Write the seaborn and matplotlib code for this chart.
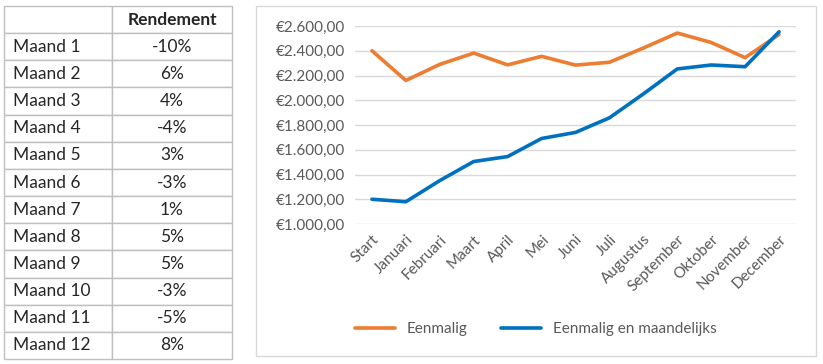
import matplotlib.pyplot as plt
import matplotlib.patches as mpatches
import pandas as pd
import seaborn as sns

# Data
maanden = ['Start', 'Januari', 'Februari', 'Maart', 'April', 'Mei', 'Juni', 'Juli',
           'Augustus', 'September', 'Oktober', 'November', 'December']
eenmalig = [2400, 2160, 2290, 2381, 2286, 2355, 2284, 2307, 2422, 2543, 2467, 2344, 2531]
eenmalig_maandelijks = [1200, 1180, 1351, 1505, 1545, 1691, 1740, 1858, 2051, 2253, 2285, 2271, 2553]
table_rows = ['Maand 1', 'Maand 2', 'Maand 3', 'Maand 4', 'Maand 5', 'Maand 6',
              'Maand 7', 'Maand 8', 'Maand 9', 'Maand 10', 'Maand 11', 'Maand 12']
rendement = ['-10%', '6%', '4%', '-4%', '3%', '-3%', '1%', '5%', '5%', '-3%', '-5%', '8%']

sns.set_style('white')
plt.rcParams['font.family'] = ['Lato', 'DejaVu Sans']

W, H = 823, 364
fig = plt.figure(figsize=(W / 100, H / 100), dpi=100)

# Table on the left
tax = fig.add_axes([4 / W, 1 - 359 / H, 228 / W, 353 / H])
tax.axis('off')
cells = [['', 'Rendement']] + [[r, v] for r, v in zip(table_rows, rendement)]
tbl = tax.table(cellText=cells, bbox=[0, 0, 1, 1], colWidths=[108, 120], cellLoc='center')
tbl.auto_set_font_size(False)
for (r, c), cell in tbl.get_celld().items():
    cell.set_edgecolor('#bfbfbf')
    cell.set_linewidth(1)
    cell.get_text().set_fontsize(12.5)
    cell.get_text().set_color('#262626')
    if c == 0:
        cell.get_text().set_ha('left')
        cell.PAD = 0.08
    if r == 0 and c == 1:
        cell.get_text().set_fontweight('bold')

# Chart border
fig.patches.append(mpatches.Rectangle((256 / W, 1 - 356 / H), 560 / W, 350 / H,
                                      transform=fig.transFigure, fill=False,
                                      edgecolor='#d9d9d9', linewidth=1))

# Line chart
df = pd.DataFrame({
    'maand': maanden * 2,
    'waarde': eenmalig + eenmalig_maandelijks,
    'serie': ['Eenmalig'] * len(maanden) + ['Eenmalig en maandelijks'] * len(maanden),
})
ax = fig.add_axes([355 / W, 1 - 224 / H, 441 / W, 198 / H])
sns.lineplot(data=df, x='maand', y='waarde', hue='serie', ax=ax,
             palette=['#ED7D31', '#0070C0'], linewidth=2.6, sort=False)
ax.set_xlim(-0.5, len(maanden) - 0.5)
ax.set_ylim(1000, 2600)
ax.set_yticks(range(1000, 2601, 200))
ax.set_yticklabels(['€' + f'{v:,.2f}'.replace(',', 'X').replace('.', ',').replace('X', '.')
                    for v in range(1000, 2601, 200)])
ax.grid(axis='y', color='#d9d9d9', linewidth=1)
ax.set_axisbelow(True)
for s in ax.spines.values():
    s.set_visible(False)
ax.set_xlabel('')
ax.set_ylabel('')
ax.tick_params(axis='both', length=0, labelsize=11, labelcolor='#595959')
ax.tick_params(axis='y', pad=7)
ax.tick_params(axis='x', pad=6)
ax.set_xticks(range(len(maanden)))
ax.set_xticklabels(maanden, rotation=45, ha='right', va='top', rotation_mode='anchor')

ax.legend(loc='center', bbox_to_anchor=(536 / W, 1 - 329 / H), bbox_transform=fig.transFigure,
          ncol=2, frameon=False, fontsize=11, handlelength=2.6, columnspacing=2.2,
          labelcolor='#595959')

fig.savefig('out.png', dpi=100)
